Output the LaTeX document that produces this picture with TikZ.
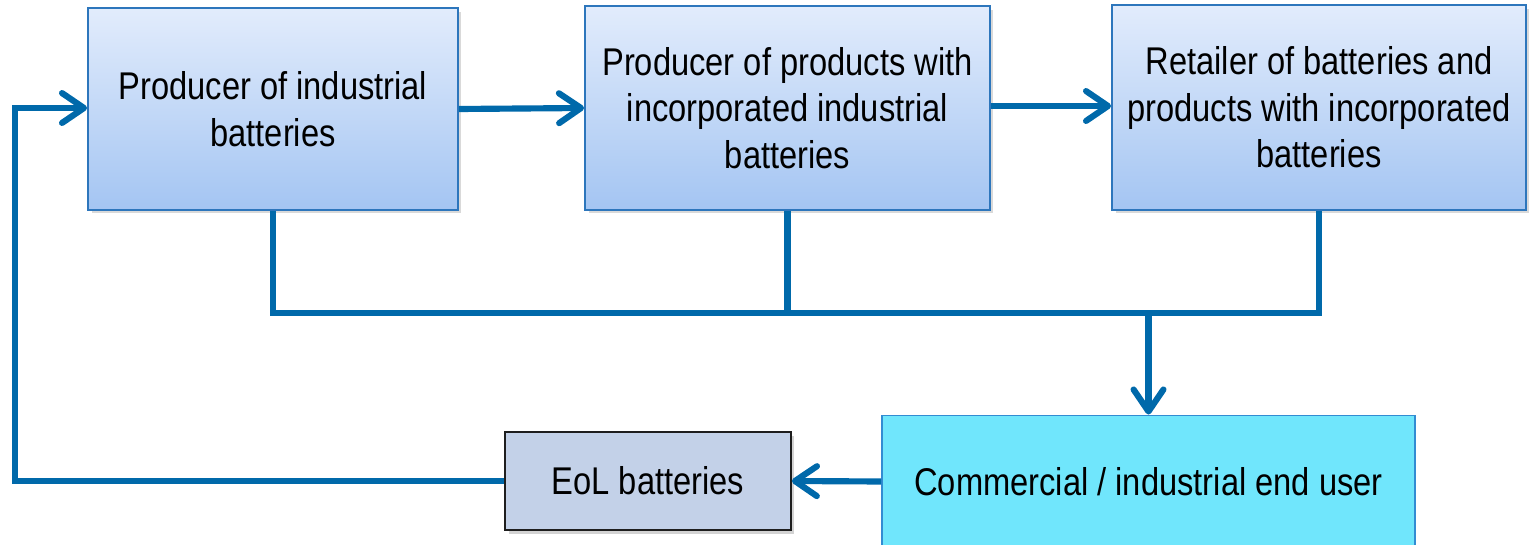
\documentclass[tikz,border=0pt]{standalone}
\usepackage{fontspec}
\setmainfont{Liberation Sans}[FakeStretch=0.845]
\usetikzlibrary{arrows.meta,shadows}
\definecolor{flow}{RGB}{0,105,170}
\definecolor{boxedge}{RGB}{45,118,188}
\definecolor{boxtop}{RGB}{226,236,252}
\definecolor{boxbot}{RGB}{164,197,242}
\definecolor{userfill}{RGB}{112,230,252}
\definecolor{useredge}{RGB}{50,140,210}
\definecolor{eolfill}{RGB}{195,209,232}
\definecolor{eoledge}{RGB}{30,30,30}
\tikzset{
  x=0.02cm, y=-0.02cm,
  label text/.style={font=\fontsize{22}{26.5}\selectfont, align=center, text=black, inner sep=1pt},
  stage/.style={label text, draw=boxedge, line width=1.1pt, top color=boxtop, bottom color=boxbot,
    drop shadow={opacity=0.3, shadow xshift=2pt, shadow yshift=-2pt}},
  userbox/.style={label text, draw=useredge, line width=1.1pt, fill=userfill},
  eolbox/.style={label text, draw=eoledge, line width=1pt, fill=eolfill,
    drop shadow={opacity=0.35, shadow xshift=2pt, shadow yshift=-2pt}},
  link/.style={draw=flow, line width=3.5pt, line join=miter},
  flowarrow/.style={link, -{Straight Barb[length=12.5pt, width=17pt, line cap=round, line join=round]}},
}
\begin{document}
\begin{tikzpicture}
\useasboundingbox (0,0) rectangle (1534,544);

% supply chain stages
\node[stage, minimum width=7.4cm, minimum height=4.04cm] (b1) at (273,109)
  {Producer of industrial\\batteries};
\node[stage, minimum width=8.1cm, minimum height=4.08cm] (b2) at (787.5,108)
  {Producer of products with\\incorporated industrial\\batteries};
\node[stage, minimum width=8.28cm, minimum height=4.1cm] (b3) at (1319,107.5)
  {Retailer of batteries and\\products with incorporated\\batteries};

% end of the chain
\node[userbox, minimum width=10.66cm, minimum height=2.64cm] (cu) at (1148.5,481.5)
  {Commercial / industrial end user};
\node[eolbox, minimum width=5.72cm, minimum height=1.96cm] (eol) at (648,481)
  {EoL batteries};

% forward flow between stages
\draw[flowarrow] (b1.east) -- (b2.west);
\draw[flowarrow] (b2.east |- 0,106) -- (b3.west |- 0,106);

% collecting bus to the end user
\coordinate (bus) at (0,313);
\draw[link] (b1.south) -- (b1.south |- bus) -- (b3.south |- bus) -- (b3.south);
\draw[link] (b2.south) -- (b2.south |- bus);
\draw[flowarrow] (cu.north |- bus) -- (cu.north);

% return flow of end-of-life batteries
\draw[flowarrow] (cu.west) -- (eol.east);
\coordinate (corner) at (15,108);
\draw[flowarrow] (eol.west) -| (corner) -- (b1.west |- corner);
\end{tikzpicture}
\end{document}
